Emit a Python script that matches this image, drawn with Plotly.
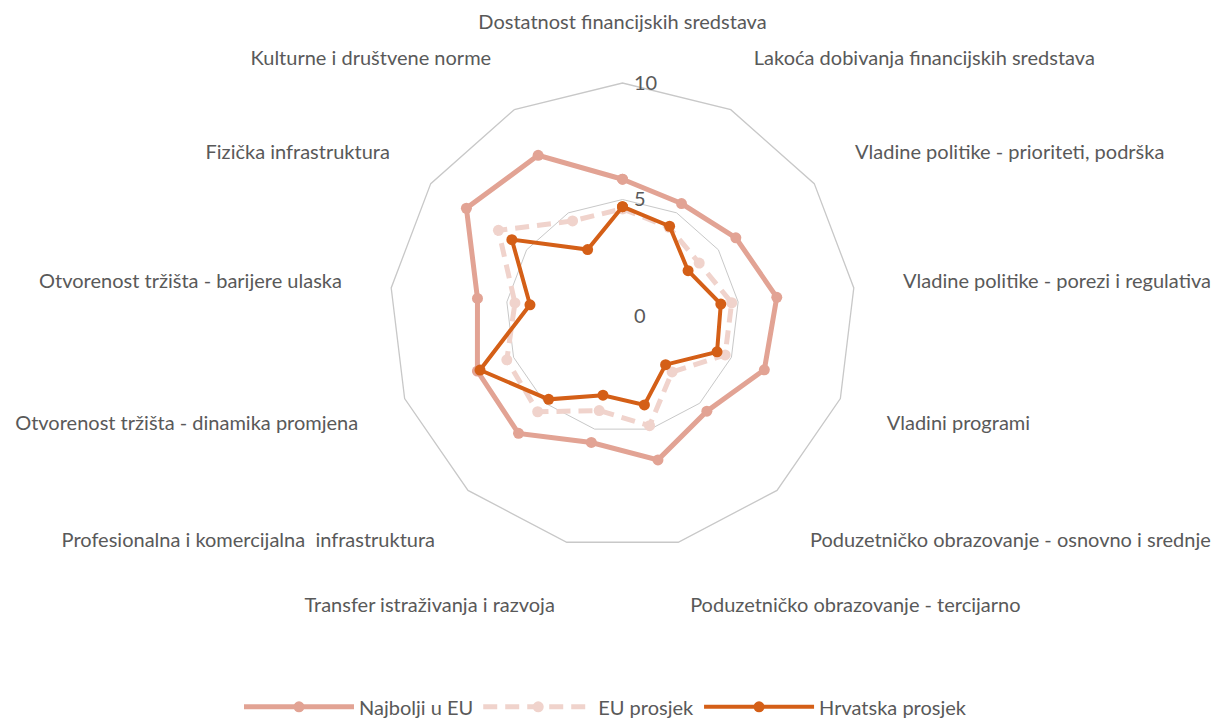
import plotly.graph_objects as go

categories = [
    "Dostatnost financijskih sredstava",
    "Lakoća dobivanja financijskih sredstava",
    "Vladine politike - prioriteti, podrška",
    "Vladine politike - porezi i regulativa",
    "Vladini programi",
    "Poduzetničko obrazovanje - osnovno i srednje",
    "Poduzetničko obrazovanje - tercijarno",
    "Transfer istraživanja i razvoja",
    "Profesionalna i komercijalna  infrastruktura",
    "Otvorenost tržišta - dinamika promjena",
    "Otvorenost tržišta - barijere ulaska",
    "Fizička infrastruktura",
    "Kulturne i društvene norme",
]

najbolji_eu = [5.87, 5.45, 5.91, 6.67, 6.51, 5.46, 6.36, 5.59, 6.73, 6.66, 6.27, 8.14, 7.79]
eu_prosjek = [4.6, 4.3, 4.0, 4.72, 4.71, 3.21, 4.85, 4.18, 5.49, 5.31, 4.65, 6.47, 4.61]
hrvatska_prosjek = [4.69, 4.35, 3.42, 4.25, 4.34, 2.79, 3.93, 3.5, 4.78, 6.54, 4.0, 5.77, 3.22]

series_names = ["Najbolji u EU", "EU prosjek", "Hrvatska prosjek"]
radial_ticks = [0, 5, 10]


def closed(v):
    return list(v) + [v[0]]


theta = closed(categories)

fig = go.Figure()
fig.add_trace(go.Scatterpolar(
    r=closed(najbolji_eu), theta=theta, name=series_names[0], mode="lines+markers",
    line=dict(color="#E2A394", width=5), marker=dict(size=11, color="#E2A394"),
))
fig.add_trace(go.Scatterpolar(
    r=closed(eu_prosjek), theta=theta, name=series_names[1], mode="lines+markers",
    line=dict(color="#F0D3CC", width=5, dash="14px,8px"), marker=dict(size=11, color="#F0D3CC"),
))
fig.add_trace(go.Scatterpolar(
    r=closed(hrvatska_prosjek), theta=theta, name=series_names[2], mode="lines+markers",
    line=dict(color="#D45F17", width=4), marker=dict(size=11, color="#D45F17"),
))

W, H = 1211, 722
cx, cy, R = 622.5, 316, 233

fig.update_layout(
    width=W, height=H,
    margin=dict(l=0, r=0, t=0, b=0, autoexpand=False),
    paper_bgcolor="white",
    font=dict(family="Lato, Open Sans, sans-serif", color="#595959", size=20),
    polar=dict(
        domain=dict(x=[(cx - R) / W, (cx + R) / W], y=[(H - cy - R) / H, (H - cy + R) / H]),
        bgcolor="white",
        gridshape="linear",
        angularaxis=dict(
            rotation=90, direction="clockwise",
            showgrid=False, showline=True, linecolor="#C8C8C8", linewidth=1.3,
            ticks="outside", ticklen=45, tickcolor="rgba(0,0,0,0)",
            tickfont=dict(size=20, color="#595959"),
        ),
        radialaxis=dict(
            range=[0, 10], tickvals=radial_ticks, ticktext=[str(t) for t in radial_ticks],
            angle=90, tickangle=90, showline=False, showgrid=True, gridcolor="#C8C8C8", gridwidth=1.3,
            ticks="outside", ticklen=7, tickcolor="rgba(0,0,0,0)",
            tickfont=dict(size=20, color="#595959"),
        ),
    ),
    legend=dict(
        orientation="h", x=0.5, xanchor="center", y=-0.006, yanchor="bottom",
        itemwidth=110, font=dict(size=20, color="#595959"),
    ),
    showlegend=True,
)

fig.write_html(
    "out.html",
    config={"displayModeBar": False},
    post_script="document.body.style.margin='0';document.body.style.overflow='hidden';",
)
